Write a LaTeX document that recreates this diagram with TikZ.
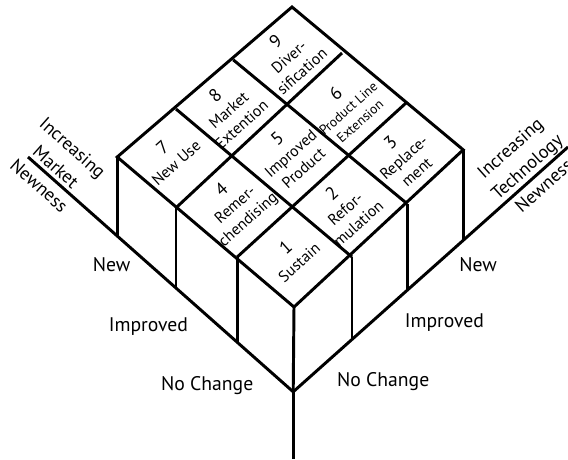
\documentclass[tikz,border=0pt]{standalone}
\usepackage{fontspec}
\setmainfont{PT Sans}
\newcommand{\cellnum}[1]{{\fontsize{13}{13}\selectfont #1}}
\begin{document}
\begin{tikzpicture}[line width=2.1pt,
    cellbox/.style={rotate=41.7, align=center, inner sep=0pt, font=\fontsize{11.2}{13.8}\selectfont},
    grade/.style={font=\fontsize{14}{16}\selectfont},
    axistext/.style={align=center, font=\fontsize{13}{18}\selectfont}]
    \useasboundingbox (0,0) rectangle (14.2,11.475);
    %punti della faccia superiore
    \coordinate (g00) at (7.35,3.80);
    \coordinate (g10) at (5.93,5.05);
    \coordinate (g20) at (4.40,6.28);
    \coordinate (g30) at (2.93,7.55);
    \coordinate (g01) at (8.80,5.05);
    \coordinate (g02) at (10.18,6.38);
    \coordinate (g03) at (11.58,7.73);
    \coordinate (g31) at (4.40,8.75);
    \coordinate (g32) at (5.83,9.98);
    \coordinate (g33) at (7.30,11.30);
    \coordinate (g13) at (10.15,8.90);
    \coordinate (g23) at (8.55,10.15);
    %assi
    \coordinate (o) at (7.33,1.68);
    \coordinate (stem) at (7.33,0);
    \coordinate (lend) at (0.70,7.55);
    \coordinate (rend) at (14.2,7.80);
    \coordinate (a30) at (2.93,5.58);
    \coordinate (a20) at (4.40,4.27);
    \coordinate (a10) at (5.93,2.92);
    \coordinate (a01) at (8.80,2.99);
    \coordinate (a02) at (10.18,4.22);
    \coordinate (a03) at (11.58,5.46);
    \draw (lend) -- (o) -- (rend);
    \draw (o) -- (stem);
    %spigoli verticali
    \draw (g30) -- (a30);
    \draw (g20) -- (a20);
    \draw (g10) -- (a10);
    \draw (g00) -- (o);
    \draw (g01) -- (a01);
    \draw (g02) -- (a02);
    \draw (g03) -- (a03);
    %faccia superiore
    \draw (g00) -- (g30) -- (g33) -- (g03) -- cycle;
    \draw (g10) -- (g13);
    \draw (g20) -- (g23);
    \draw (g01) -- (g31);
    \draw (g02) -- (g32);
    %caselle
    \node[cellbox] (c1) at (7.30,5.11) {\cellnum{1}\\Sustain};
    \node[cellbox] (c2) at (8.62,6.27) {\cellnum{2}\\Refor-\\mulation};
    \node[cellbox] (c3) at (10.08,7.55) {\cellnum{3}\\Replace-\\ment};
    \node[cellbox] (c4) at (5.88,6.35) {\cellnum{4}\\Remer-\\chendising};
    \node[cellbox] (c5) at (7.25,7.65) {\cellnum{5}\\Improved\\Product};
    \node[cellbox, font=\fontsize{9.6}{12.5}\selectfont] (c6) at (8.68,8.80) {\cellnum{6}\\Product Line\\Extension};
    \node[cellbox] (c7) at (4.23,7.60) {\cellnum{7}\\New Use};
    \node[cellbox] (c8) at (5.70,8.74) {\cellnum{8}\\Market\\Extention};
    \node[cellbox] (c9) at (7.21,10.07) {\cellnum{9}\\Diver-\\sification};
    %livelli
    \node[grade] (lnew) at (2.79,4.85) {New};
    \node[grade] (limp) at (3.71,3.31) {Improved};
    \node[grade] (lno) at (5.18,1.83) {No Change};
    \node[grade] (rno) at (9.58,1.94) {No Change};
    \node[grade] (rimp) at (11.11,3.40) {Improved};
    \node[grade] (rnew) at (11.95,4.86) {New};
    %nomi degli assi
    \node[axistext, rotate=-41.6] (market) at (1.40,7.31) {Increasing\\Market\\Newness};
    \node[axistext, rotate=41.7] (tech) at (13.17,7.31) {Increasing\\Technology\\Newness};
\end{tikzpicture}
\end{document}
